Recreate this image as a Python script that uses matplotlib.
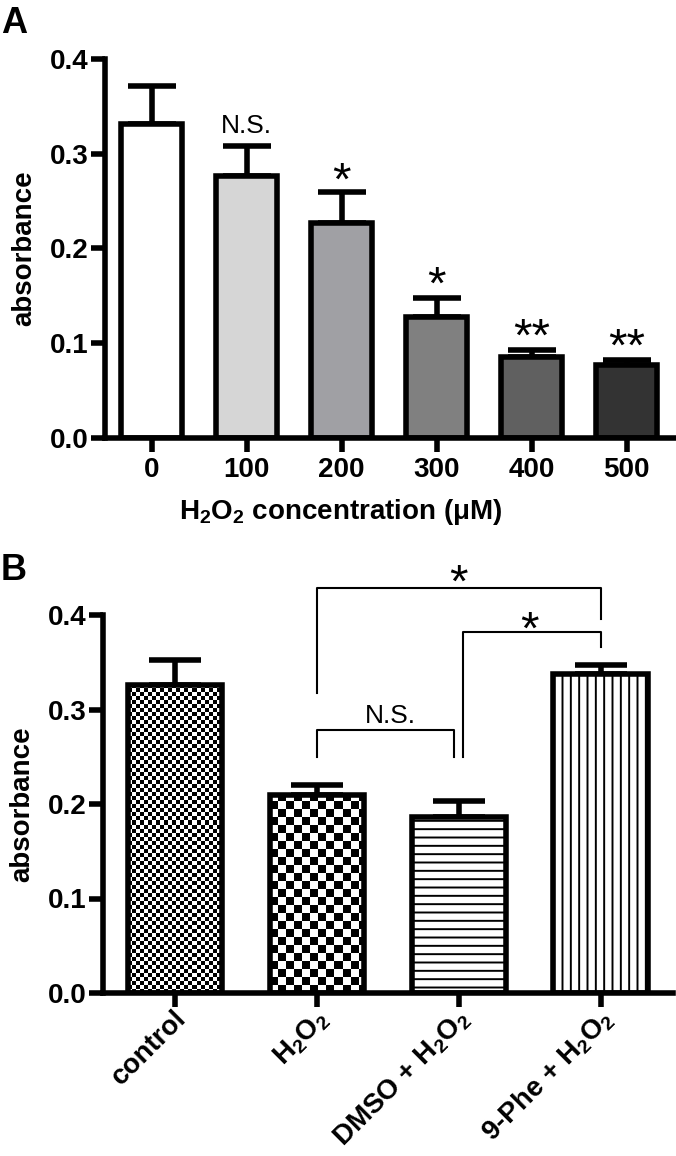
import numpy as np
import matplotlib.pyplot as plt
from matplotlib.transforms import ScaledTranslation

plt.rcParams['font.family'] = ['Liberation Sans', 'DejaVu Sans']
plt.rcParams['mathtext.fontset'] = 'custom'
plt.rcParams['mathtext.rm'] = 'Liberation Sans:bold'
plt.rcParams['mathtext.it'] = 'Liberation Sans:bold'
plt.rcParams['mathtext.bf'] = 'Liberation Sans:bold'
plt.rcParams['hatch.linewidth'] = 1.4

# panel A data
conc = ['0', '100', '200', '300', '400', '500']
abs_a = [0.331, 0.276, 0.227, 0.128, 0.085, 0.077]
err_a = [0.040, 0.032, 0.033, 0.020, 0.008, 0.0055]
sig_a = ['', 'N.S.', '*', '*', '**', '**']
sig_a_y = [0, 0.332, 0.285, 0.175, 0.121, 0.110]
colors_a = ['#ffffff', '#d6d6d6', '#a0a0a4', '#808080', '#606060', '#333333']

# panel B data
groups = ['control', 'H$_2$O$_2$', 'DMSO + H$_2$O$_2$', '9-Phe + H$_2$O$_2$']
abs_b = [0.326, 0.209, 0.186, 0.338]
err_b = [0.026, 0.011, 0.017, 0.009]
# (left x, right x, left leg bottom, top, right leg bottom, label, label x, label y)
brackets = [
    (1, 3, 0.317, 0.4286, 0.396, '*', 2.0, 0.448),
    (2.03, 3, 0.250, 0.382, 0.366, '*', 2.5, 0.398),
    (1, 1.97, 0.250, 0.278, 0.250, 'N.S.', 1.52, 0.296),
]

W, H = 676, 1156
fig = plt.figure(figsize=(W / 100, H / 100), dpi=100)
axA = fig.add_axes([105 / W, 1 - 438 / H, 570 / W, 379 / H])
axB = fig.add_axes([103 / W, 1 - 993 / H, 570 / W, 378 / H])

LW = 4
STAR = 34


def style(ax):
    for s in ['top', 'right']:
        ax.spines[s].set_visible(False)
    for s in ['left', 'bottom']:
        ax.spines[s].set_linewidth(LW)
    ax.tick_params(width=LW, length=10, labelsize=20)
    ax.set_ylim(0, 0.4)
    ax.set_yticks([0, 0.1, 0.2, 0.3, 0.4])
    ax.set_yticklabels(['0.0', '0.1', '0.2', '0.3', '0.4'], fontweight='bold')
    ax.tick_params(axis='y', pad=2)
    ax.set_ylabel('absorbance', fontsize=20, fontweight='bold')
    ax.yaxis.set_label_coords(-0.118, 0.5)


def mark(ax, x, y, s):
    if '*' in s:
        ax.annotate(s, (x, y), xytext=(0, -0.57 * STAR), textcoords='offset points',
                    ha='center', va='baseline', fontsize=STAR, annotation_clip=False)
    else:
        ax.annotate(s, (x, y), xytext=(0, -0.36 * 19), textcoords='offset points',
                    ha='center', va='baseline', fontsize=19, annotation_clip=False)


# ---- panel A
xa = np.arange(len(conc))
axA.errorbar(xa, abs_a, yerr=[np.zeros(len(xa)), err_a], fmt='none', ecolor='k',
             elinewidth=LW, capsize=17, capthick=LW, zorder=1)
axA.bar(xa, abs_a, width=0.64, color=colors_a, edgecolor='k', linewidth=LW, zorder=2)
for x, s, y in zip(xa, sig_a, sig_a_y):
    if s:
        mark(axA, x, y, s)
style(axA)
axA.set_xlim(-0.49, 5.51)
axA.set_xticks(xa)
axA.set_xticklabels(conc, fontweight='bold')
axA.tick_params(axis='x', pad=4)
axA.set_xlabel('H$_2$O$_2$ concentration (\u03bcM)', fontsize=20, fontweight='bold')
axA.xaxis.set_label_coords(0.414, -0.155)

# ---- panel B
xb = np.arange(len(groups))
axB.errorbar(xb, abs_b, yerr=[np.zeros(len(xb)), err_b], fmt='none', ecolor='k',
             elinewidth=LW, capsize=19, capthick=LW, zorder=1)
bars = axB.bar(xb, abs_b, width=0.665, facecolor='white', edgecolor='k',
               linewidth=LW, zorder=2)
bars[2].set_hatch('--')
bars[3].set_hatch('||')

# checkerboard fills for control and H2O2
px_x = 570 / 4.02
px_y = 378 / 0.4
for i, cell in [(0, 4), (1, 8)]:
    b = bars[i]
    b.set_facecolor('none')
    dx, dy = cell / px_x, cell / px_y
    nx = int(b.get_width() / dx) + 2
    ny = int(b.get_height() / dy) + 2
    jj, ii = np.meshgrid(np.arange(nx), np.arange(ny))
    board = (ii + jj) % 2
    x0 = b.get_x()
    im = axB.imshow(board, cmap='gray_r', extent=(x0, x0 + nx * dx, 0, ny * dy),
                    origin='lower', interpolation='nearest', aspect='auto', zorder=1.5)
    im.set_clip_path(b)

for xl, xr, yl, yt, yr, s, tx, ty in brackets:
    axB.plot([xl, xl, xr, xr], [yl, yt, yt, yr], color='k', lw=1.5, clip_on=False)
    mark(axB, tx, ty, s)

style(axB)
axB.set_xlim(-0.507, 3.51)
axB.set_xticks(xb)
axB.set_xticklabels(groups, fontweight='bold', fontsize=20, rotation=45,
                    ha='right', rotation_mode='anchor')
axB.tick_params(axis='x', pad=3)
shift = ScaledTranslation(-0.02, 0.06, fig.dpi_scale_trans)
for lab in axB.get_xticklabels():
    lab.set_transform(lab.get_transform() + shift)

fig.text(1 / W, 1 - 6 / H, 'A', fontsize=26, fontweight='bold', va='top')
fig.text(1 / W, 1 - 553 / H, 'B', fontsize=26, fontweight='bold', va='top')

fig.savefig('out.png', dpi=100)
